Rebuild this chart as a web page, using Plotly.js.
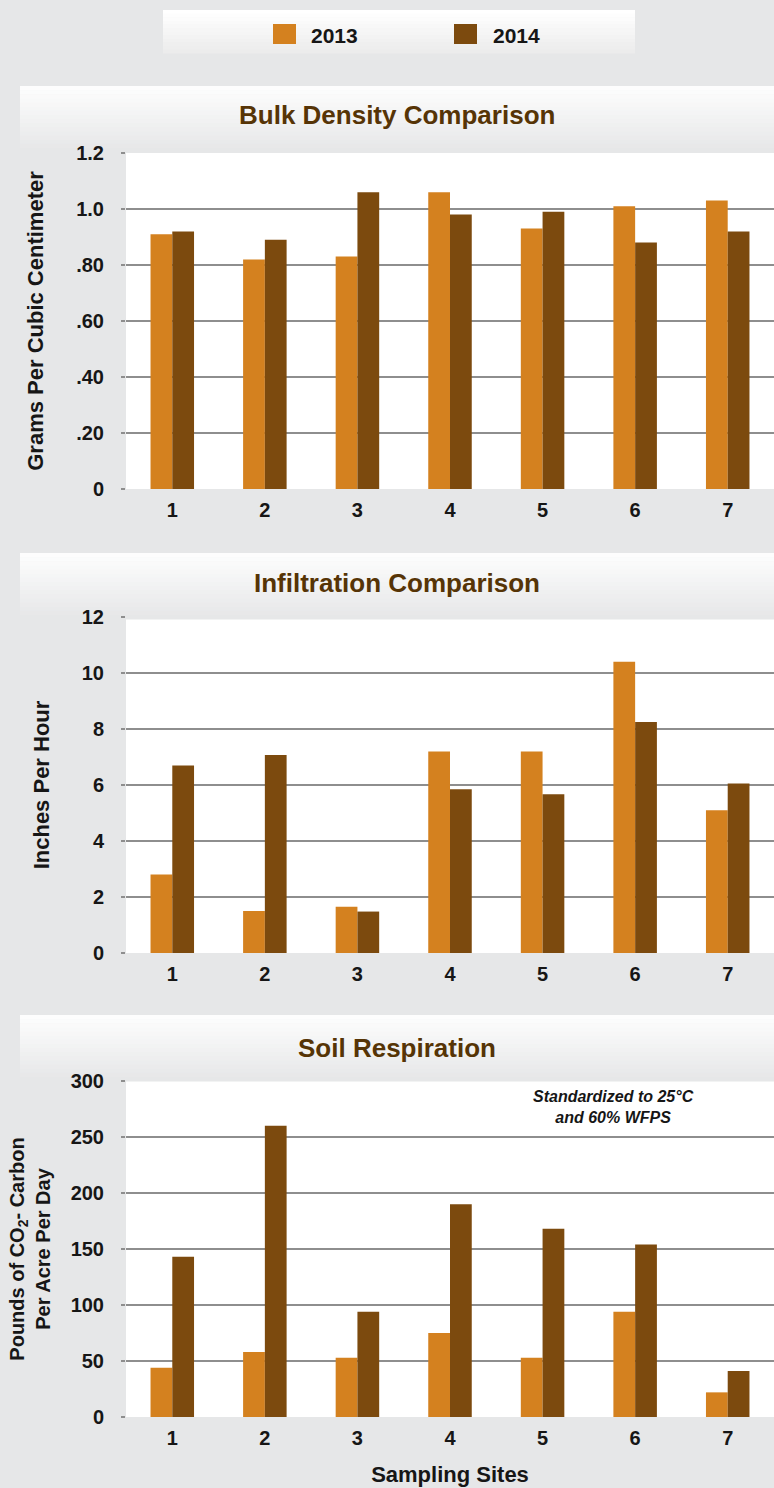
<!DOCTYPE html>
<html>
<head>
<meta charset="utf-8">
<script src="https://cdn.plot.ly/plotly-3.0.1.min.js"></script>
<style>html,body{margin:0;padding:0;background:#e6e7e8;}#chart{width:774px;height:1488px;}</style>
</head>
<body>
<div id="chart"></div>
<script>
// ---- data ----
const sites = ['1', '2', '3', '4', '5', '6', '7'];
const seriesNames = ['2013', '2014'];
const bulk2013 = [0.91, 0.82, 0.83, 1.06, 0.93, 1.01, 1.03];
const bulk2014 = [0.92, 0.89, 1.06, 0.98, 0.99, 0.88, 0.92];
const infil2013 = [2.8, 1.5, 1.65, 7.2, 7.2, 10.4, 5.1];
const infil2014 = [6.7, 7.07, 1.48, 5.85, 5.67, 8.25, 6.05];
const resp2013 = [44, 58, 53, 75, 53, 94, 22];
const resp2014 = [143, 260, 94, 190, 168, 154, 41];
const bulkTicks = [0, 0.2, 0.4, 0.6, 0.8, 1.0, 1.2];
const bulkTickText = ['0', '.20', '.40', '.60', '.80', '1.0', '1.2'];
const infilTicks = [0, 2, 4, 6, 8, 10, 12];
const respTicks = [0, 50, 100, 150, 200, 250, 300];
const chartTitles = ['Bulk Density Comparison', 'Infiltration Comparison', 'Soil Respiration'];
const yTitles = ['Grams Per Cubic Centimeter', 'Inches Per Hour', 'Pounds of CO<sub>2</sub>- Carbon<br>Per Acre Per Day'];
const xTitle = 'Sampling Sites';
const noteText = 'Standardized to 25°C<br>and 60% WFPS';

// ---- style ----
const W = 774, H = 1488, L = 126, R = 0;
const PW = W - L - R;
const colors = ['#D4811F', '#7C4A0E'];
const bg = '#e6e7e8';
const gridCol = '#8e8e8e';
const titleCol = '#563406';
const textCol = '#161616';
const FONT = 'Liberation Sans, Arial, sans-serif';
const X = px => (px - L) / PW;
const Y = py => 1 - py / H;

const panels = [
  {top: 153, bottom: 489, band: 86, v13: bulk2013, v14: bulk2014, range: [0, 1.2], tv: bulkTicks, tt: bulkTickText, titleY: 115},
  {top: 617, bottom: 953, band: 553, v13: infil2013, v14: infil2014, range: [0, 12], tv: infilTicks, tt: infilTicks.map(String), titleY: 583},
  {top: 1081, bottom: 1417, band: 1015, v13: resp2013, v14: resp2014, range: [0, 300], tv: respTicks, tt: respTicks.map(String), titleY: 1048}
];

const traces = [];
const layout = {
  width: W, height: H,
  margin: {l: L, r: R, t: 0, b: 0},
  paper_bgcolor: bg, plot_bgcolor: '#ffffff',
  barmode: 'group', bargap: 0.53, bargroupgap: 0,
  showlegend: false,
  font: {family: FONT, color: textCol},
  shapes: [], annotations: []
};

function lerpColor(a, b, t) {
  const pa = [parseInt(a.slice(1,3),16), parseInt(a.slice(3,5),16), parseInt(a.slice(5,7),16)];
  const pb = [parseInt(b.slice(1,3),16), parseInt(b.slice(3,5),16), parseInt(b.slice(5,7),16)];
  return 'rgb(' + pa.map((v, i) => Math.round(v + (pb[i] - v) * t)).join(',') + ')';
}
function gradientRect(x0, x1, y0, y1, cTop, cBot, steps) {
  const h = (y1 - y0) / steps;
  for (let i = 0; i < steps; i++) {
    layout.shapes.push({type: 'rect', xref: 'paper', yref: 'paper', layer: 'below',
      x0: X(x0), x1: X(x1), y0: Y(y0 + i * h), y1: Y(y0 + (i + 1) * h + 0.5),
      fillcolor: lerpColor(cTop, cBot, i / (steps - 1)), line: {width: 0}});
  }
}

// legend box
gradientRect(163, 635, 10, 53, '#ffffff', '#ececec', 12);

const tickFont = {size: 20, weight: 'bold', color: textCol};

panels.forEach((p, i) => {
  const n = i === 0 ? '' : String(i + 1);
  const xa = 'x' + n, ya = 'y' + n;
  [p.v13, p.v14].forEach((vals, k) => {
    traces.push({type: 'bar', x: sites, y: vals, name: seriesNames[k], xaxis: xa, yaxis: ya,
      marker: {color: colors[k], line: {width: 0}}, hoverinfo: 'x+y+name'});
  });
  layout['xaxis' + n] = {
    domain: [0, 1], anchor: ya, type: 'category', showgrid: false, zeroline: false, showline: false,
    ticks: '', ticklabelstandoff: 7, tickfont: tickFont, fixedrange: true
  };
  if (i === 2) {
    layout['xaxis' + n].title = {text: xTitle, font: {size: 22, weight: 'bold', color: textCol}, standoff: 18};
  }
  layout['yaxis' + n] = {
    domain: [Y(p.bottom), Y(p.top)], anchor: xa, range: p.range, tickvals: p.tv, ticktext: p.tt,
    showgrid: true, gridcolor: gridCol, gridwidth: 1.6, zeroline: false, showline: false,
    ticks: 'outside', ticklen: 4, tickcolor: gridCol, tickwidth: 1.6, ticklabelstandoff: 13,
    tickfont: tickFont, fixedrange: true,
    title: {text: yTitles[i], font: {size: i === 2 ? 20 : 22, weight: 'bold', color: textCol}, standoff: i === 2 ? 14 : 26}
  };
  // title band
  gradientRect(20, 774, p.band, p.band + 66, '#fdfdfd', bg, 16);
  layout.annotations.push({xref: 'paper', yref: 'paper', x: X(397), y: Y(p.titleY), xanchor: 'center', yanchor: 'middle',
    text: chartTitles[i], showarrow: false, font: {size: 26, weight: 'bold', color: titleCol}});
});

// legend items
const legendX = [[273, 296, 309], [454, 477, 491]];
seriesNames.forEach((nm, k) => {
  layout.shapes.push({type: 'rect', xref: 'paper', yref: 'paper', x0: X(legendX[k][0]), x1: X(legendX[k][1]),
    y0: Y(44), y1: Y(24), fillcolor: colors[k], line: {width: 0}});
  layout.annotations.push({xref: 'paper', yref: 'paper', x: X(legendX[k][2]), y: Y(35), xanchor: 'left', yanchor: 'middle',
    text: nm, showarrow: false, font: {size: 21, weight: 'bold', color: textCol}});
});

// note on respiration chart
layout.annotations.push({xref: 'paper', yref: 'paper', x: X(613), y: Y(1107), xanchor: 'center', yanchor: 'middle',
  text: '<i>' + noteText + '</i>', showarrow: false, font: {size: 16, weight: 'bold', color: textCol}});

Plotly.newPlot('chart', traces, layout, {displayModeBar: false, staticPlot: true});
</script>
</body>
</html>
